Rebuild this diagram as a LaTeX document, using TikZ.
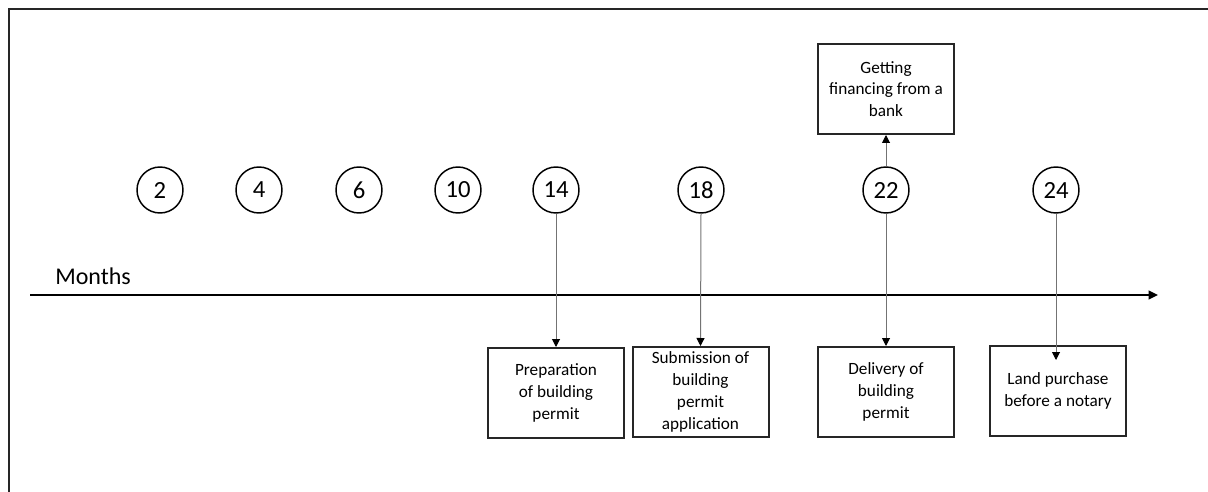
\documentclass[tikz,border=0pt]{standalone}
\usepackage{fontspec}
\setmainfont{Carlito}
\usetikzlibrary{arrows.meta}
\begin{document}
\begin{tikzpicture}[x=0.75pt,y=-0.75pt,
  month/.style={circle,draw=black,line width=1.1pt,minimum size=34.5pt,inner sep=0pt,font=\fontsize{18.5}{20}\selectfont},
  event/.style={draw=black!85,line width=1.5pt,minimum width=102pt,minimum height=67.5pt,inner sep=2pt,align=center,font=\fontsize{12.9}{16.3}\selectfont},
  link/.style={draw=black!55,line width=0.75pt,-{Triangle[length=6pt,width=6pt,color=black]}},
  axisline/.style={line width=1.5pt,-{Triangle[length=7pt,width=6.5pt]}},
  frame/.style={line width=1.5pt,draw=black!85}]
\useasboundingbox (0,0) rectangle (1208,492);
\draw[frame] (9,492) -- (9,9) -- (1208,9);

% months axis
\coordinate (axs) at (30,295);
\coordinate (axe) at (1158,295);
\draw[axisline] (axs) -- (axe);
\node[anchor=base west,font=\fontsize{18}{20}\selectfont,inner sep=0pt] (lbl) at (55,284) {Months};

% month circles
\node[month] (m2)  at (160,190) {2};
\node[month] (m4)  at (259,190) {4};
\node[month] (m6)  at (359,190) {6};
\node[month] (m10) at (458,190) {10};
\node[month] (m14) at (556,190) {14};
\node[month] (m18) at (701,190) {18};
\node[month] (m22) at (886,190) {22};
\node[month] (m24) at (1056,190) {24};

% events
\node[event] (prep) at (556,393) {Preparation\\of building\\permit};
\node[event] (subm) at (700.5,392) {Submission of\\building\\permit\\application};
\node[event] (fin)  at (886,89) {Getting\\financing from a\\bank};
\node[event] (deli) at (886,392) {Delivery of\\building\\permit};
\node[event] (land) at (1058,391) {Land purchase\\before a notary};

% connectors
\coordinate (landtip) at (1056,360);
\draw[link] (m14.south) -- (prep.north);
\draw[link] (m18.south) -- (subm.north);
\draw[link] (m22.south) -- (deli.north);
\draw[link] (m22.north) -- (fin.south);
\draw[link] (m24.south) -- (landtip);
\end{tikzpicture}
\end{document}
